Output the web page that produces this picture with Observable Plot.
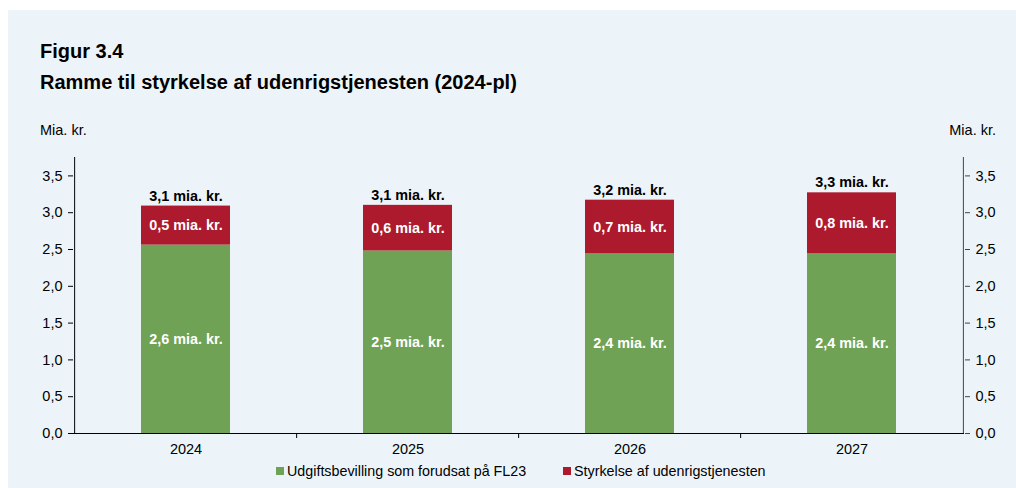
<!DOCTYPE html>
<html>
<head>
<meta charset="utf-8">
<script src="https://cdn.jsdelivr.net/npm/d3@7"></script>
<script src="https://cdn.jsdelivr.net/npm/@observablehq/plot@0.6"></script>
<style>
  body { margin: 0; width: 1016px; height: 488px; background: #ffffff; font-family: "Liberation Sans", Arial, sans-serif; position: relative; overflow: hidden; }
  #panel { position: absolute; left: 8px; top: 10px; width: 1008px; height: 478px; background: #EDF4F9; }
  #title { position: absolute; left: 40px; top: 36px; font-weight: bold; font-size: 20px; line-height: 31px; color: #000; }
  .unit { position: absolute; top: 122px; font-size: 14.5px; color: #000; }
  #chart { position: absolute; left: 0; top: 145px; }
  #legend { position: absolute; top: 462px; left: 0; width: 1016px; font-size: 14.3px; color: #000; }
  .item { position: absolute; top: 0; display: flex; align-items: center; height: 18px; }
  .sw { width: 8px; height: 8px; margin-right: 3px; }
</style>
</head>
<body>
<div id="panel"></div>
<div id="title">Figur 3.4<br>Ramme til styrkelse af udenrigstjenesten (2024-pl)</div>
<div class="unit" style="left:40px">Mia. kr.</div>
<div class="unit" style="right:20px">Mia. kr.</div>
<div id="chart"></div>
<div id="legend"></div>
<script>
const years = ["2024", "2025", "2026", "2027"];
const seriesNames = ["Udgiftsbevilling som forudsat på FL23", "Styrkelse af udenrigstjenesten"];
const seriesColors = ["#70A255", "#AD1A2E"];
const baseValues = [2.56, 2.48, 2.44, 2.44];
const boostValues = [0.53, 0.62, 0.73, 0.83];
const baseLabels = ["2,6 mia. kr.", "2,5 mia. kr.", "2,4 mia. kr.", "2,4 mia. kr."];
const boostLabels = ["0,5 mia. kr.", "0,6 mia. kr.", "0,7 mia. kr.", "0,8 mia. kr."];
const totalLabels = ["3,1 mia. kr.", "3,1 mia. kr.", "3,2 mia. kr.", "3,3 mia. kr."];
const yTicks = [0, 0.5, 1, 1.5, 2, 2.5, 3, 3.5];
const yMax = 3.75;

const W = 1016, H = 317, mL = 73, mR = 52, mT = 12, mB = 29;
const step = (W - mL - mR) / years.length;

const rows = [];
years.forEach((yr, i) => {
  rows.push({year: yr, series: seriesNames[0], value: baseValues[i], y1: 0, y2: baseValues[i], label: baseLabels[i]});
  rows.push({year: yr, series: seriesNames[1], value: boostValues[i], y1: baseValues[i], y2: baseValues[i] + boostValues[i], label: boostLabels[i]});
});
const totals = years.map((yr, i) => ({year: yr, total: baseValues[i] + boostValues[i], label: totalLabels[i]}));
const fmt = d => d.toFixed(1).replace(".", ",");

const chart = Plot.plot({
  width: W, height: H,
  marginLeft: mL, marginRight: mR, marginTop: mT, marginBottom: mB,
  style: {background: "transparent", fontFamily: "'Liberation Sans', Arial, sans-serif", fontSize: "14.5px", color: "#000"},
  x: {domain: years, paddingInner: 0.6, paddingOuter: 0.3, label: null},
  y: {domain: [0, yMax], label: null},
  color: {domain: seriesNames, range: seriesColors},
  marks: [
    Plot.barY(rows, {x: "year", y1: "y1", y2: "y2", fill: "series"}),
    Plot.text(rows, {x: "year", y: d => (d.y1 + d.y2) / 2, text: "label", fill: "white", fontWeight: "bold", fontSize: 14.4}),
    Plot.text(totals, {x: "year", y: "total", text: "label", fill: "black", fontWeight: "bold", fontSize: 14.4, dy: -10}),
    Plot.ruleY([0], {stroke: "#000"}),
    Plot.ruleX([years[0]], {x: d => d, dx: -step / 2, stroke: "#000"}),
    Plot.ruleX([years[years.length - 1]], {x: d => d, dx: step / 2, stroke: "#444"}),
    Plot.ruleX(years.slice(1), {x: d => d, dx: -step / 2, insetTop: H - mT - mB, insetBottom: -5, stroke: "#000"}),
    Plot.axisY({anchor: "left", ticks: yTicks, tickFormat: fmt, tickSize: 5, tickPadding: 6, label: null, fontSize: 14.5}),
    Plot.axisY({anchor: "right", ticks: yTicks, tickFormat: fmt, tickSize: 5, tickPadding: 6, label: null, stroke: "#444", fontSize: 14.5}),
    Plot.axisX({tickSize: 0, tickPadding: 10, label: null, fontSize: 14.5})
  ]
});
document.getElementById("chart").appendChild(chart);

const legend = document.getElementById("legend");
const legendLefts = [276, 563];
seriesNames.forEach((name, i) => {
  const item = document.createElement("div");
  item.className = "item";
  item.style.left = legendLefts[i] + "px";
  const sw = document.createElement("span");
  sw.className = "sw";
  sw.style.background = seriesColors[i];
  const t = document.createElement("span");
  t.textContent = name;
  item.appendChild(sw); item.appendChild(t);
  legend.appendChild(item);
});
</script>
</body>
</html>
